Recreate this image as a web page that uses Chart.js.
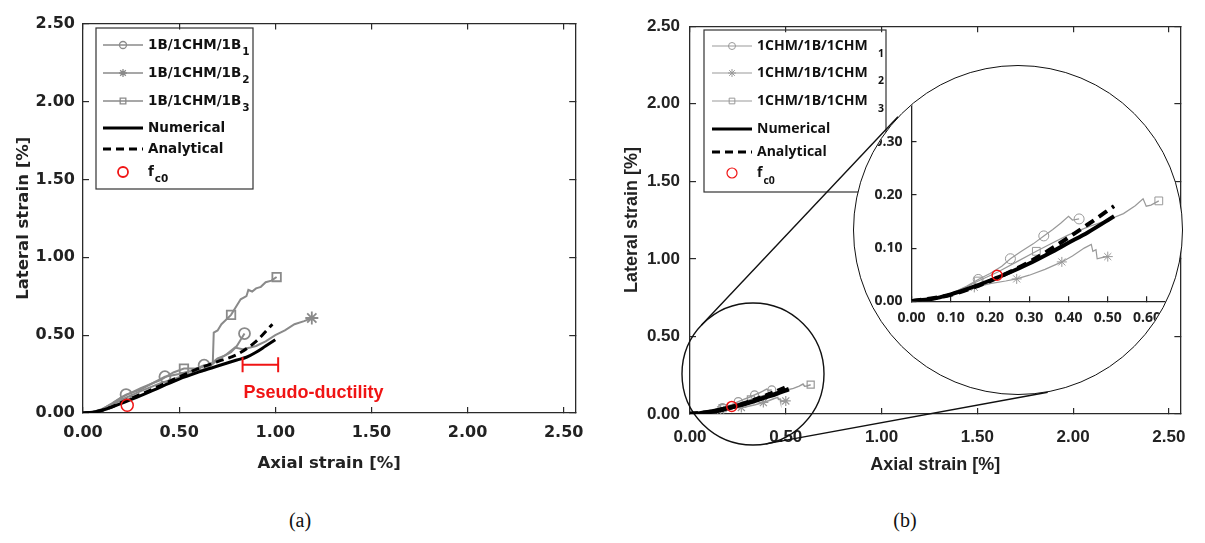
<!DOCTYPE html>
<html>
<head>
<meta charset="utf-8">
<script src="https://cdn.jsdelivr.net/npm/chart.js"></script>
<style>
body { margin: 0; background: #fff; width: 1205px; height: 543px; position: relative; overflow: hidden; }
canvas { position: absolute; }
#chartA { left: 0; top: 0; }
#chartB { left: 605px; top: 0; }
#zoomCircle { position: absolute; box-sizing: border-box; border: 1.5px solid #111; border-radius: 50%; overflow: hidden; background: #fff; }
#chartInset { left: 0; top: 0; }
.cap { position: absolute; top: 509px; font-family: "Liberation Serif", "Times New Roman", serif; font-size: 20px; color: #111; transform: translateX(-50%); }
</style>
</head>
<body>
<canvas id="chartA" width="600" height="480"></canvas>
<canvas id="chartB" width="600" height="480"></canvas>
<div id="zoomCircle"><canvas id="chartInset" width="327" height="327"></canvas></div>
<div class="cap" style="left:300px">(a)</div>
<div class="cap" style="left:905px">(b)</div>
<script>
// Ticks de los ejes
const mainTicks = [0, 0.5, 1.0, 1.5, 2.0, 2.5];
const insetXTicks = [0, 0.1, 0.2, 0.3, 0.4, 0.5, 0.6];
const insetYTicks = [0, 0.1, 0.2, 0.3];

// (a) 1B/1CHM/1B  -- deformaciones en %
const leftS1X = [0, 0.05, 0.1, 0.15, 0.2, 0.224, 0.3, 0.36, 0.426, 0.5, 0.56, 0.63, 0.66, 0.7, 0.74, 0.77, 0.8, 0.82, 0.84];
const leftS1Y = [0, 0.006, 0.025, 0.06, 0.1, 0.118, 0.15, 0.19, 0.233, 0.25, 0.27, 0.307, 0.31, 0.35, 0.37, 0.39, 0.43, 0.47, 0.51];
const leftS1Marks = [5, 8, 11, 18];
const leftS2X = [0, 0.05, 0.1, 0.15, 0.2, 0.3, 0.4, 0.5, 0.6, 0.65, 0.7, 0.75, 0.79, 0.83, 0.87, 0.9, 0.95, 1.0, 1.05, 1.1, 1.15, 1.19];
const leftS2Y = [0, 0.005, 0.02, 0.05, 0.085, 0.14, 0.19, 0.23, 0.27, 0.29, 0.34, 0.38, 0.42, 0.41, 0.42, 0.43, 0.46, 0.5, 0.53, 0.57, 0.59, 0.61];
const leftS2Marks = [21];
const leftS3X = [0, 0.05, 0.1, 0.15, 0.2, 0.3, 0.4, 0.47, 0.525, 0.58, 0.62, 0.66, 0.675, 0.68, 0.7, 0.72, 0.77, 0.8, 0.82, 0.85, 0.86, 0.88, 0.9, 0.925, 0.95, 0.98, 1.007];
const leftS3Y = [0, 0.006, 0.025, 0.06, 0.1, 0.16, 0.21, 0.26, 0.285, 0.285, 0.295, 0.31, 0.32, 0.516, 0.53, 0.57, 0.63, 0.69, 0.73, 0.75, 0.79, 0.78, 0.8, 0.81, 0.84, 0.85, 0.873];
const leftS3Marks = [8, 16, 26];
const leftNumX = [0, 0.05, 0.1, 0.15, 0.2, 0.3, 0.4, 0.5, 0.6, 0.7, 0.8, 0.85, 0.9, 0.95, 1.0];
const leftNumY = [0, 0.005, 0.018, 0.038, 0.062, 0.112, 0.165, 0.218, 0.262, 0.302, 0.34, 0.358, 0.39, 0.43, 0.47];
const leftAnaX = [0, 0.05, 0.1, 0.15, 0.2, 0.3, 0.4, 0.5, 0.6, 0.7, 0.8, 0.9, 0.985];
const leftAnaY = [0, 0.005, 0.018, 0.04, 0.068, 0.12, 0.175, 0.232, 0.285, 0.33, 0.375, 0.46, 0.57];
const leftFc0 = [0.23, 0.05];
const pseudoX = [0.83, 1.015];
const pseudoY = 0.31;
const pseudoLabel = [0.835, 0.13];

// (b) 1CHM/1B/1CHM
const rightS1X = [0, 0.05, 0.1, 0.14, 0.17, 0.2, 0.23, 0.252, 0.28, 0.31, 0.337, 0.36, 0.38, 0.4, 0.41, 0.427];
const rightS1Y = [0, 0.004, 0.014, 0.028, 0.041, 0.052, 0.066, 0.08, 0.094, 0.108, 0.123, 0.135, 0.147, 0.16, 0.153, 0.155];
const rightS1Marks = [4, 7, 10, 15];
const rightS2X = [0, 0.05, 0.1, 0.13, 0.16, 0.2, 0.24, 0.268, 0.3, 0.34, 0.383, 0.41, 0.44, 0.458, 0.462, 0.47, 0.473, 0.485, 0.5];
const rightS2Y = [0, 0.004, 0.013, 0.019, 0.026, 0.033, 0.038, 0.042, 0.049, 0.06, 0.074, 0.085, 0.1, 0.107, 0.094, 0.097, 0.08, 0.082, 0.084];
const rightS2Marks = [4, 7, 10, 18];
const rightS3X = [0, 0.05, 0.1, 0.14, 0.17, 0.22, 0.27, 0.318, 0.36, 0.4, 0.45, 0.5, 0.54, 0.57, 0.59, 0.598, 0.61, 0.63];
const rightS3Y = [0, 0.004, 0.014, 0.027, 0.038, 0.055, 0.075, 0.094, 0.11, 0.125, 0.14, 0.153, 0.165, 0.18, 0.193, 0.179, 0.181, 0.189];
const rightS3Marks = [4, 7, 17];
const rightNumX = [0, 0.05, 0.1, 0.15, 0.2, 0.25, 0.3, 0.35, 0.4, 0.45, 0.516];
const rightNumY = [0, 0.004, 0.013, 0.025, 0.039, 0.054, 0.071, 0.09, 0.11, 0.13, 0.16];
const rightAnaX = [0, 0.1, 0.2, 0.25, 0.3, 0.35, 0.4, 0.45, 0.516];
const rightAnaY = [0, 0.012, 0.038, 0.055, 0.074, 0.096, 0.12, 0.145, 0.179];
const rightFc0 = [0.218, 0.049];

// Círculos del zoom (en px de la página)
const zoomSmall = { cx: 753, cy: 374, r: 71 };
const zoomBig = { cx: 1018, cy: 230, r: 165 };

const GREY = '#8a8a8a';
const RED = '#f01414';
const pts = (xs, ys) => xs.map((x, i) => ({ x: x, y: ys[i] }));
const fmt = v => v.toFixed(2);

function expSet(xs, ys, marks, style, st, order) {
  return {
    data: pts(xs, ys), borderColor: st.color, borderWidth: st.width, tension: 0,
    pointStyle: style, pointRadius: c => marks.includes(c.dataIndex) ? st.r : 0,
    pointBorderColor: st.color, pointBackgroundColor: 'rgba(0,0,0,0)', pointBorderWidth: st.pw,
    order: order
  };
}
function curveSet(xs, ys, width, dash, order) {
  return {
    data: pts(xs, ys), borderColor: '#000', borderWidth: width, borderDash: dash,
    cubicInterpolationMode: 'monotone', pointRadius: 0, order: order
  };
}
function fc0Set(p, r) {
  return {
    data: [{ x: p[0], y: p[1] }], showLine: false, pointStyle: 'circle', pointRadius: r,
    pointBorderColor: RED, borderColor: RED, pointBackgroundColor: 'rgba(0,0,0,0)', pointBorderWidth: 1.5, order: 0
  };
}

function mainScales(o) {
  const frame = { display: true, color: '#2a2a2a', width: 1.3 };
  const grid = { drawOnChartArea: false, color: '#2a2a2a', lineWidth: 1.2, tickLength: -6 };
  const setTicks = s => { s.ticks = mainTicks.map(v => ({ value: v })); };
  return {
    x: {
      type: 'linear', position: 'bottom', min: 0, max: 2.56, border: frame, grid: grid,
      afterBuildTicks: setTicks,
      ticks: { font: o.tickFont, color: '#222', padding: o.xPad, maxRotation: 0, autoSkip: false, callback: fmt },
      title: { display: true, text: 'Axial strain [%]', font: o.titleFont, color: '#222', padding: { top: 0, bottom: o.xTitlePad } },
      afterFit: s => { s.height = o.xH; }
    },
    y: {
      type: 'linear', position: 'left', min: 0, max: 2.5, border: frame, grid: grid,
      afterBuildTicks: setTicks,
      ticks: { font: o.tickFont, color: '#222', padding: o.yPad, callback: fmt },
      title: { display: true, text: 'Lateral strain [%]', font: o.titleFont, color: '#222', padding: { top: o.yTitlePad, bottom: 0 } },
      afterFit: s => { s.width = o.yW; }
    },
    x2: {
      type: 'linear', position: 'top', min: 0, max: 2.56, border: frame, grid: grid,
      afterBuildTicks: setTicks, ticks: { display: false },
      afterFit: s => { s.height = 0; }
    },
    y2: {
      type: 'linear', position: 'right', min: 0, max: 2.5, border: frame, grid: grid,
      afterBuildTicks: setTicks, ticks: { display: false },
      afterFit: s => { s.width = 0; }
    }
  };
}

function drawLegend(chart, L) {
  const ctx = chart.ctx;
  ctx.save();
  ctx.lineWidth = 1.2;
  ctx.strokeStyle = '#333';
  ctx.setLineDash([]);
  ctx.strokeRect(L.x, L.y, L.w, L.h);
  L.rows.forEach((row, i) => {
    const ds = chart.data.datasets[row.ds];
    const y = L.rowY[i];
    const mid = L.lineX + L.lineW / 2;
    if (row.lw) {
      ctx.beginPath();
      ctx.setLineDash(ds.borderDash || []);
      ctx.lineWidth = row.lw;
      ctx.strokeStyle = ds.borderColor;
      ctx.moveTo(L.lineX, y);
      ctx.lineTo(L.lineX + L.lineW, y);
      ctx.stroke();
      ctx.setLineDash([]);
    }
    if (row.mr) {
      ctx.strokeStyle = ds.pointBorderColor;
      ctx.fillStyle = 'rgba(0,0,0,0)';
      ctx.lineWidth = row.mw;
      Chart.helpers.drawPoint(ctx, { pointStyle: ds.pointStyle, radius: row.mr, borderWidth: row.mw, rotation: 0 }, mid, y);
    }
    ctx.fillStyle = '#111';
    ctx.font = L.font;
    ctx.textBaseline = 'middle';
    ctx.textAlign = 'left';
    ctx.fillText(row.text, L.textX, y);
    if (row.sub) {
      const w = ctx.measureText(row.text).width;
      ctx.font = L.subFont;
      const sx = (row.fixedSub && L.subX) ? L.subX : L.textX + w + 1;
      ctx.fillText(row.sub, sx, y + L.subDy);
    }
  });
  ctx.restore();
}

// ---------- (a) ----------
const stA = { color: GREY, width: 2, r: 5.5, pw: 1.8 };
const dataA = [
  expSet(leftS1X, leftS1Y, leftS1Marks, 'circle', stA, 3),
  expSet(leftS2X, leftS2Y, leftS2Marks, 'star', Object.assign({}, stA, { r: 6.5 }), 4),
  expSet(leftS3X, leftS3Y, leftS3Marks, 'rect', Object.assign({}, stA, { r: 6 }), 5),
  curveSet(leftNumX, leftNumY, 3, [], 1),
  curveSet(leftAnaX, leftAnaY, 3, [8, 5], 2),
  fc0Set(leftFc0, 6),
  {
    data: pts(pseudoX, [pseudoY, pseudoY]), borderColor: RED, borderWidth: 2,
    pointStyle: 'line', rotation: 90, pointRadius: 7.5, pointBorderColor: RED, pointBorderWidth: 2, order: 0
  }
];

const legendA = {
  x: 96, y: 28, w: 157, h: 161, lineX: 103, lineW: 40, textX: 148,
  rowY: [45, 73, 101, 128, 149, 172],
  font: 'bold 13.5px "DejaVu Sans"', subFont: 'bold 10.5px "DejaVu Sans"', subDy: 7,
  rows: [
    { ds: 0, text: '1B/1CHM/1B', sub: '1', lw: 1.5, mr: 3.5, mw: 1.3 },
    { ds: 1, text: '1B/1CHM/1B', sub: '2', lw: 1.5, mr: 4, mw: 1.3 },
    { ds: 2, text: '1B/1CHM/1B', sub: '3', lw: 1.5, mr: 4, mw: 1.3 },
    { ds: 3, text: 'Numerical', lw: 3 },
    { ds: 4, text: 'Analytical', lw: 3 },
    { ds: 5, text: 'f', sub: 'c0', mr: 5, mw: 1.8 }
  ]
};

new Chart(document.getElementById('chartA'), {
  type: 'line',
  data: { datasets: dataA },
  options: {
    responsive: false, animation: false, events: [],
    layout: { padding: { top: 15, right: 18, left: 0, bottom: 0 } },
    plugins: { legend: { display: false }, tooltip: { enabled: false } },
    scales: mainScales({
      tickFont: { family: '"DejaVu Sans"', size: 16, weight: 'bold' },
      titleFont: { family: '"DejaVu Sans"', size: 16.5, weight: 'bold' },
      xPad: 16, xTitlePad: 6, xH: 67, yPad: 14, yTitlePad: 14, yW: 83
    })
  },
  plugins: [{
    id: 'extrasA',
    afterDraw(chart) {
      const ctx = chart.ctx;
      ctx.save();
      ctx.fillStyle = RED;
      ctx.font = 'bold 18px "Liberation Sans", Arial, sans-serif';
      ctx.textBaseline = 'middle';
      ctx.fillText('Pseudo-ductility', chart.scales.x.getPixelForValue(pseudoLabel[0]), chart.scales.y.getPixelForValue(pseudoLabel[1]));
      ctx.restore();
      drawLegend(chart, legendA);
    }
  }]
});

// ---------- (b) ----------
const stB = { color: '#999', width: 1.5, r: 4, pw: 1.2 };
const dataB = [
  expSet(rightS1X, rightS1Y, rightS1Marks, 'circle', stB, 3),
  expSet(rightS2X, rightS2Y, rightS2Marks, 'star', Object.assign({}, stB, { r: 5 }), 4),
  expSet(rightS3X, rightS3Y, rightS3Marks, 'rect', Object.assign({}, stB, { r: 5 }), 5),
  curveSet(rightNumX, rightNumY, 4.5, [], 1),
  curveSet(rightAnaX, rightAnaY, 4.5, [8, 5], 2),
  fc0Set(rightFc0, 5)
];

const legendB = {
  x: 99, y: 30, w: 182, h: 162, lineX: 107, lineW: 40, textX: 152, subX: 273,
  rowY: [46, 73, 101, 129, 152, 173],
  font: 'bold 14px "Open Sans"', subFont: 'bold 10.5px "Open Sans"', subDy: 8,
  rows: [
    { ds: 0, text: '1CHM/1B/1CHM', sub: '1', fixedSub: true, lw: 1, mr: 3.5, mw: 1 },
    { ds: 1, text: '1CHM/1B/1CHM', sub: '2', fixedSub: true, lw: 1, mr: 4, mw: 1 },
    { ds: 2, text: '1CHM/1B/1CHM', sub: '3', fixedSub: true, lw: 1, mr: 4, mw: 1 },
    { ds: 3, text: 'Numerical', lw: 3 },
    { ds: 4, text: 'Analytical', lw: 3 },
    { ds: 5, text: 'f', sub: 'c0', mr: 5, mw: 1.2 }
  ]
};

function outerTangents(a, b) {
  const dx = b.cx - a.cx, dy = b.cy - a.cy;
  const d = Math.hypot(dx, dy), base = Math.atan2(dy, dx), t = Math.acos((a.r - b.r) / d);
  return [base + t, base - t].map(ang => [
    [a.cx + a.r * Math.cos(ang), a.cy + a.r * Math.sin(ang)],
    [b.cx + b.r * Math.cos(ang), b.cy + b.r * Math.sin(ang)]
  ]);
}

const offB = 605;
new Chart(document.getElementById('chartB'), {
  type: 'line',
  data: { datasets: dataB },
  options: {
    responsive: false, animation: false, events: [],
    layout: { padding: { top: 17, right: 15, left: 0, bottom: 0 } },
    plugins: { legend: { display: false }, tooltip: { enabled: false } },
    scales: mainScales({
      tickFont: { family: '"Liberation Sans", Arial, sans-serif', size: 17, weight: 'bold' },
      titleFont: { family: '"Liberation Sans", Arial, sans-serif', size: 18, weight: 'bold' },
      xPad: 19, xTitlePad: 4, xH: 66, yPad: 16, yTitlePad: 16, yW: 85
    })
  },
  plugins: [{
    id: 'extrasB',
    beforeDatasetsDraw(chart) {
      const ctx = chart.ctx;
      ctx.save();
      ctx.strokeStyle = '#111';
      ctx.lineWidth = 1.4;
      ctx.beginPath();
      ctx.arc(zoomSmall.cx - offB, zoomSmall.cy, zoomSmall.r, 0, Math.PI * 2);
      ctx.stroke();
      ctx.restore();
    },
    afterDraw(chart) {
      drawLegend(chart, legendB);
      const ctx = chart.ctx;
      ctx.save();
      ctx.strokeStyle = '#111';
      ctx.lineWidth = 1.4;
      outerTangents(zoomSmall, zoomBig).forEach(seg => {
        ctx.beginPath();
        ctx.moveTo(seg[0][0] - offB, seg[0][1]);
        ctx.lineTo(seg[1][0] - offB, seg[1][1]);
        ctx.stroke();
      });
      ctx.restore();
    }
  }]
});

// ---------- zoom (b) ----------
const circleDiv = document.getElementById('zoomCircle');
circleDiv.style.left = (zoomBig.cx - zoomBig.r) + 'px';
circleDiv.style.top = (zoomBig.cy - zoomBig.r) + 'px';
circleDiv.style.width = (2 * zoomBig.r) + 'px';
circleDiv.style.height = (2 * zoomBig.r) + 'px';

const stI = { color: '#999', width: 1.2, r: 5, pw: 1 };
const dataI = [
  expSet(rightS1X, rightS1Y, rightS1Marks, 'circle', stI, 3),
  expSet(rightS2X, rightS2Y, rightS2Marks, 'star', Object.assign({}, stI, { r: 5 }), 4),
  expSet(rightS3X, rightS3Y, rightS3Marks, 'rect', Object.assign({}, stI, { r: 5.5 }), 5),
  curveSet(rightNumX, rightNumY, 4, [], 1),
  curveSet(rightAnaX, rightAnaY, 4, [10, 6], 2),
  fc0Set(rightFc0, 5)
];
const insetFont = { family: '"Open Sans"', size: 14, weight: 'bold' };
const insetBorder = { display: true, color: '#222', width: 1.3 };
const insetGrid = { drawOnChartArea: false, color: '#222', lineWidth: 1.2, tickLength: -5 };

new Chart(document.getElementById('chartInset'), {
  type: 'line',
  data: { datasets: dataI },
  options: {
    responsive: false, animation: false, events: [],
    layout: { padding: { top: 33.5, right: 0, left: 0, bottom: 0 } },
    plugins: { legend: { display: false }, tooltip: { enabled: false } },
    scales: {
      x: {
        type: 'linear', position: 'bottom', min: 0, max: 0.67, border: insetBorder, grid: insetGrid,
        afterBuildTicks: s => { s.ticks = insetXTicks.map(v => ({ value: v })); },
        ticks: { font: insetFont, color: '#222', padding: 13, maxRotation: 0, autoSkip: false, callback: fmt },
        afterFit: s => { s.height = 91.8; }
      },
      y: {
        type: 'linear', position: 'left', min: 0, max: 0.38, border: insetBorder, grid: insetGrid,
        afterBuildTicks: s => { s.ticks = insetYTicks.map(v => ({ value: v })); },
        ticks: { font: insetFont, color: '#222', padding: 14, callback: fmt },
        afterFit: s => { s.width = 57.5; }
      }
    }
  }
});
</script>
</body>
</html>
